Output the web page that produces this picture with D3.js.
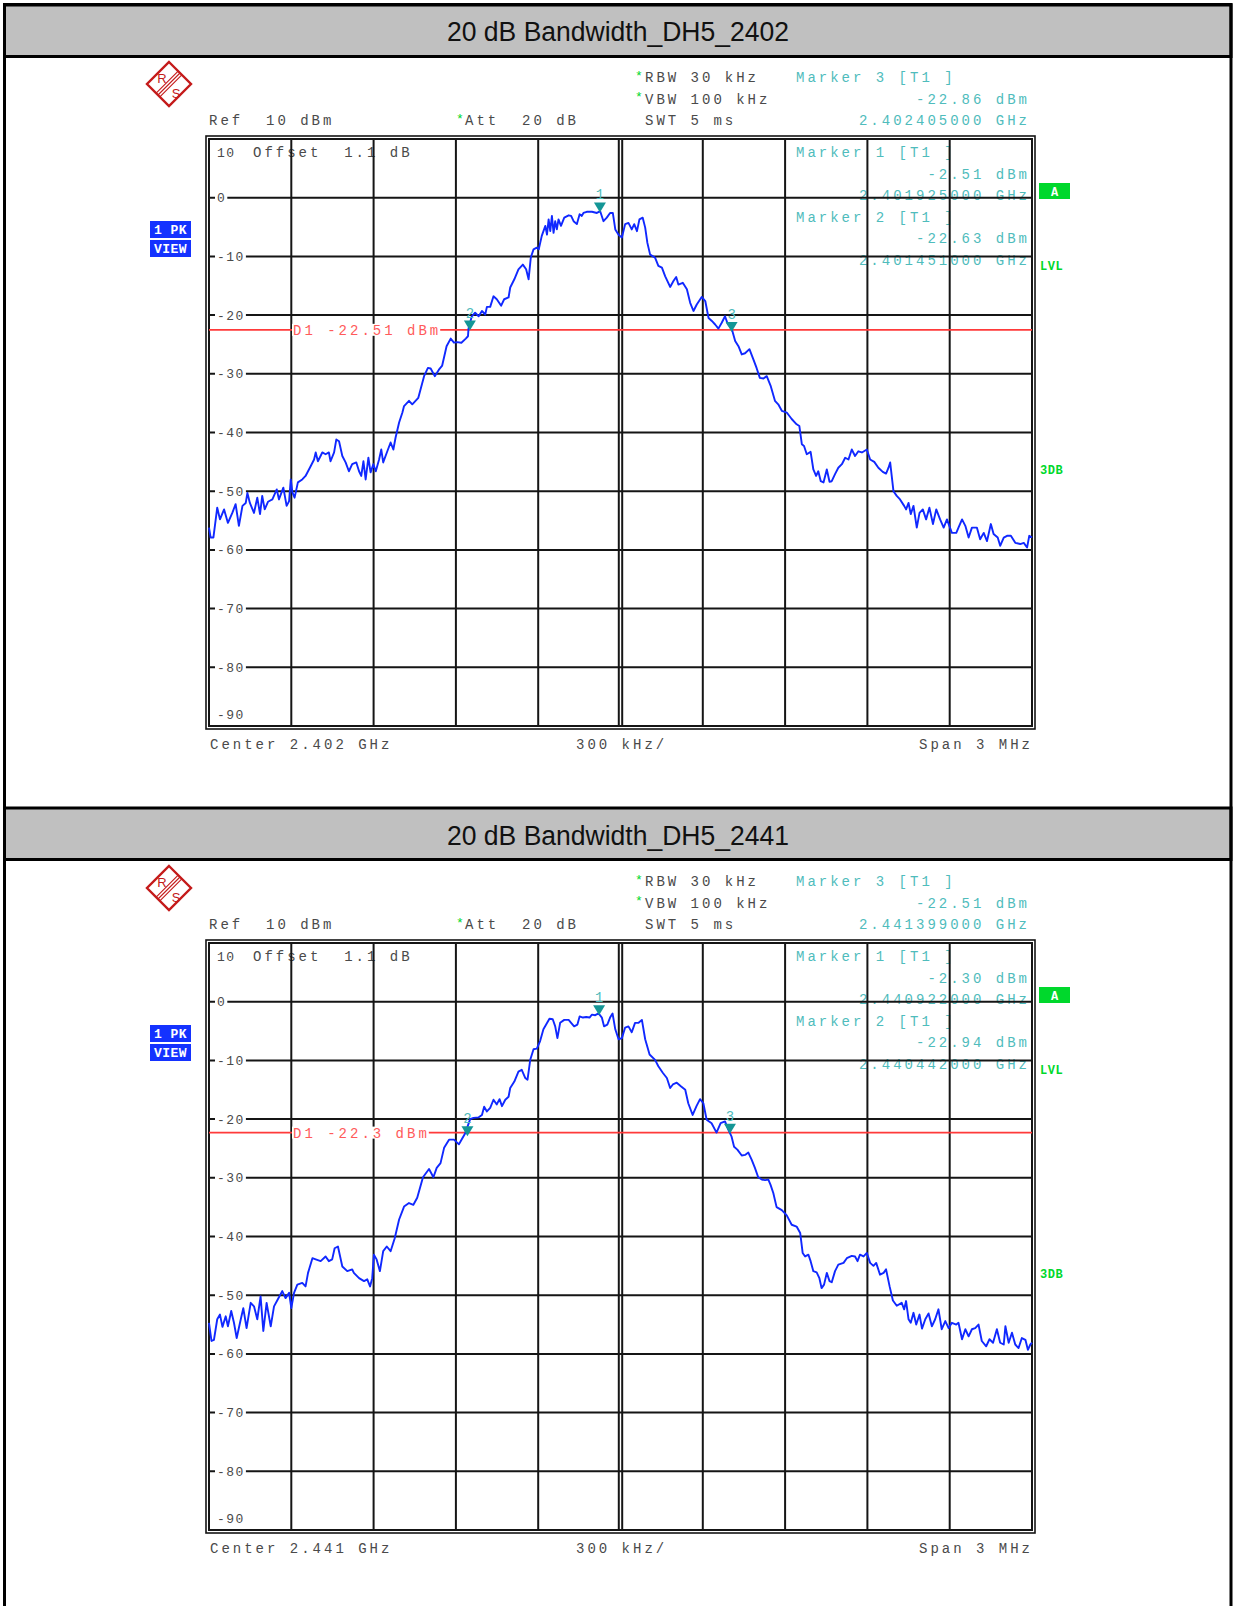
<!DOCTYPE html>
<html lang="en">
<head>
<meta charset="UTF-8">
<title>20 dB Bandwidth</title>
<script src="https://d3js.org/d3.v7.min.js"></script>
<style>
  body { margin: 0; background: #fff; }
  text { font-family: "Liberation Mono", "DejaVu Sans Mono", monospace; white-space: pre; }
</style>
</head>
<body>
<div id="chart"></div>
<script>
// ---- data ----
const titles = ["20 dB Bandwidth_DH5_2402", "20 dB Bandwidth_DH5_2441"];
const centerLabels = ["Center 2.402 GHz", "Center 2.441 GHz"];
const centersMHz = [2402, 2441];
const yTicks = [10, 0, -10, -20, -30, -40, -50, -60, -70, -80, -90];
const xTicksKHz = [-1500, -1200, -900, -600, -300, 0, 300, 600, 900, 1200, 1500];
const d1Levels = [-22.51, -22.3];

// marker id, frequency (MHz), level (dBm)
const markers2402 = [[1, 2401.925, -2.51], [2, 2401.451, -22.63], [3, 2402.405, -22.86]];
const markers2441 = [[1, 2440.922, -2.30], [2, 2440.442, -22.94], [3, 2441.399, -22.51]];

// trace: offset from center (kHz), level (dBm)
const trace2402 = [[-1500,-56.2],[-1494,-57.9],[-1484,-57.9],[-1470,-52.8],[-1460,-54.8],[-1445,-53.1],[-1431,-55.4],[-1415,-53.7],[-1403,-52.2],[-1391,-55.9],[-1378,-52.5],[-1366,-52.0],[-1360,-50.3],[-1351,-52.0],[-1336,-53.7],[-1324,-51.1],[-1314,-53.9],[-1306,-50.8],[-1297,-53.1],[-1285,-51.8],[-1269,-51.4],[-1253,-49.7],[-1245,-51.4],[-1229,-49.4],[-1217,-52.5],[-1208,-51.7],[-1202,-48.0],[-1196,-50.2],[-1188,-51.1],[-1176,-48.5],[-1160,-48.0],[-1148,-47.4],[-1129,-45.7],[-1117,-44.6],[-1111,-43.4],[-1103,-44.9],[-1087,-43.4],[-1075,-43.7],[-1063,-43.4],[-1057,-44.9],[-1044,-43.4],[-1036,-41.2],[-1026,-41.5],[-1014,-44.0],[-1002,-45.1],[-990,-46.6],[-978,-45.4],[-963,-45.1],[-953,-46.6],[-945,-47.4],[-937,-44.9],[-929,-48.0],[-919,-44.3],[-911,-46.8],[-901,-45.4],[-892,-46.6],[-880,-44.6],[-872,-42.9],[-865,-45.1],[-850,-43.2],[-838,-41.7],[-828,-42.9],[-820,-40.9],[-807,-38.3],[-795,-36.6],[-789,-35.5],[-771,-34.6],[-759,-35.2],[-737,-34.1],[-716,-30.4],[-702,-29.0],[-692,-29.1],[-677,-30.4],[-662,-29.3],[-650,-28.6],[-634,-25.3],[-619,-24.0],[-607,-24.7],[-595,-24.6],[-580,-24.7],[-564,-24.0],[-556,-23.6],
  [-554,-22.3],[-542,-20.2],[-530,-19.6],[-517,-20.2],[-505,-19.3],[-493,-19.9],[-487,-18.6],[-475,-18.6],[-463,-16.8],[-451,-17.3],[-435,-18.4],[-424,-17.3],[-408,-17.0],[-402,-15.3],[-387,-13.9],[-372,-12.2],[-356,-11.4],[-344,-12.2],[-335,-13.9],[-327,-10.2],[-317,-8.8],[-305,-8.5],[-298,-8.8],[-287,-6.5],[-274,-4.8],[-268,-6.3],[-262,-3.7],[-256,-5.7],[-250,-3.1],[-244,-6.0],[-238,-4.0],[-232,-5.4],[-226,-3.7],[-217,-4.8],[-205,-3.4],[-189,-3.0],[-180,-3.1],[-171,-4.0],[-159,-4.5],[-149,-2.8],[-141,-3.1],[-135,-2.6],[-123,-2.4],[-104,-2.4],[-86,-2.6],[-74,-2.3],[-62,-4.0],[-50,-3.4],[-38,-2.6],[-28,-2.6],[-19,-5.4],[-7,-6.3],[5,-6.8],[17,-4.5],[29,-4.3],[41,-5.4],[50,-4.5],[60,-5.7],[69,-3.7],[81,-3.4],[90,-5.1],[98,-7.7],[108,-9.7],[126,-10.2],[138,-11.6],[151,-11.9],[163,-13.4],[181,-15.2],[193,-14.2],[203,-13.5],[211,-14.8],[227,-14.5],[242,-15.6],[254,-17.9],[266,-19.3],[278,-18.2],[296,-16.9],[309,-17.6],[321,-20.5],[333,-21.0],[345,-21.6],[357,-22.3],[369,-21.3],[381,-20.2],[390,-21.4],[406,-22.4],[418,-24.4],[430,-25.3],
  [442,-26.7],[454,-26.5],[470,-25.8],[484,-27.5],[496,-29.0],[508,-30.7],[521,-30.8],[533,-30.4],[547,-32.0],[563,-34.6],[575,-35.2],[588,-36.3],[606,-36.6],[624,-37.7],[642,-38.6],[652,-38.9],[661,-42.0],[669,-42.3],[679,-43.7],[693,-43.3],[703,-46.3],[713,-47.4],[721,-46.6],[730,-48.3],[740,-48.5],[752,-46.3],[762,-48.4],[770,-48.3],[782,-47.1],[794,-46.0],[807,-45.4],[819,-44.3],[831,-44.6],[843,-42.9],[855,-44.0],[867,-43.2],[880,-43.4],[898,-42.9],[910,-44.6],[925,-45.0],[940,-46.0],[956,-46.7],[968,-47.0],[977,-46.0],[983,-45.1],[995,-50.0],[1007,-50.8],[1019,-51.4],[1034,-52.5],[1041,-53.1],[1050,-52.0],[1058,-53.9],[1068,-52.5],[1080,-56.2],[1090,-53.7],[1102,-53.1],[1114,-54.8],[1126,-52.8],[1139,-55.6],[1151,-53.1],[1165,-54.8],[1178,-56.2],[1190,-54.8],[1208,-57.1],[1224,-57.1],[1232,-56.2],[1245,-54.8],[1257,-55.9],[1269,-57.9],[1281,-56.2],[1299,-56.2],[1311,-58.2],[1324,-57.1],[1336,-58.5],[1350,-55.6],[1360,-57.3],[1375,-57.9],[1384,-59.3],[1397,-57.9],[1409,-57.6],[1423,-57.6],[1439,-58.8],[1457,-59.0],[1470,-58.8],[1482,-59.6],[1490,-57.6],[1500,-57.9]];

const trace2441 = [[-1500,-54.7],[-1491,-57.8],[-1482,-57.6],[-1470,-54.1],[-1460,-53.3],[-1451,-55.4],[-1439,-53.6],[-1431,-55.3],[-1419,-52.7],[-1409,-54.7],[-1399,-57.3],[-1387,-54.7],[-1375,-52.2],[-1363,-55.6],[-1348,-51.3],[-1336,-51.9],[-1324,-54.1],[-1312,-50.2],[-1302,-56.1],[-1290,-51.3],[-1275,-55.3],[-1263,-51.9],[-1249,-50.7],[-1233,-49.3],[-1221,-50.5],[-1208,-49.6],[-1200,-52.2],[-1190,-49.6],[-1178,-48.2],[-1160,-47.9],[-1148,-48.5],[-1139,-46.2],[-1123,-43.7],[-1111,-43.9],[-1093,-44.2],[-1075,-43.4],[-1063,-44.2],[-1051,-43.9],[-1042,-42.0],[-1030,-41.7],[-1014,-45.1],[-996,-45.9],[-978,-45.6],[-972,-46.2],[-953,-47.1],[-935,-47.6],[-923,-47.3],[-913,-48.5],[-905,-47.1],[-899,-43.1],[-889,-43.9],[-877,-45.9],[-865,-42.5],[-852,-41.7],[-838,-42.5],[-823,-40.3],[-807,-37.1],[-789,-34.9],[-771,-34.3],[-755,-34.6],[-741,-33.4],[-720,-29.9],[-698,-28.5],[-682,-29.9],[-670,-28.3],[-656,-27.5],[-643,-24.9],[-625,-23.5],[-607,-23.5],[-589,-24.3],
  [-566,-22.4],[-548,-20.0],[-536,-19.8],[-517,-19.7],[-505,-19.3],[-497,-17.9],[-487,-18.7],[-475,-18.1],[-463,-16.7],[-451,-17.5],[-441,-16.6],[-432,-17.8],[-420,-16.7],[-408,-16.2],[-402,-14.7],[-387,-13.6],[-372,-11.9],[-360,-11.6],[-347,-13.0],[-339,-13.3],[-329,-9.9],[-317,-8.1],[-305,-8.0],[-293,-6.7],[-281,-4.7],[-271,-3.9],[-259,-2.9],[-247,-3.0],[-238,-4.2],[-230,-6.2],[-220,-3.6],[-205,-3.1],[-189,-3.1],[-180,-3.6],[-169,-4.2],[-157,-3.9],[-149,-2.5],[-137,-2.7],[-125,-2.6],[-113,-2.7],[-104,-2.2],[-92,-2.3],[-80,-2.0],[-68,-2.7],[-60,-4.2],[-48,-3.9],[-38,-2.7],[-29,-2.0],[-19,-4.7],[-7,-6.4],[5,-6.2],[17,-4.4],[29,-4.2],[41,-5.2],[53,-3.6],[66,-3.6],[78,-3.1],[90,-6.4],[106,-9.0],[126,-9.9],[138,-11.0],[154,-12.1],[169,-13.0],[181,-14.7],[191,-14.1],[205,-13.8],[220,-14.4],[236,-15.0],
  [247,-17.3],[263,-19.3],[277,-17.8],[290,-16.6],[302,-17.3],[314,-20.1],[332,-20.7],[350,-22.3],[365,-20.7],[381,-20.4],[393,-21.8],[405,-23.0],[414,-24.7],[426,-25.2],[442,-26.2],[454,-26.1],[466,-25.7],[478,-26.9],[490,-28.3],[502,-29.9],[515,-30.3],[527,-30.4],[539,-30.3],[547,-31.2],[557,-32.6],[569,-35.0],[588,-35.5],[606,-36.4],[624,-38.0],[642,-38.3],[655,-39.4],[664,-42.8],[673,-43.4],[685,-43.1],[693,-44.2],[703,-45.9],[715,-46.1],[725,-47.1],[733,-48.8],[742,-48.2],[752,-46.2],[762,-47.6],[770,-47.8],[782,-45.9],[794,-44.8],[813,-44.5],[825,-43.7],[843,-43.3],[855,-43.4],[864,-44.2],[873,-43.1],[886,-43.4],[898,-42.8],[910,-44.5],[922,-45.0],[932,-44.5],[946,-46.5],[959,-46.2],[968,-45.6],[981,-48.5],[993,-50.9],[1007,-51.8],[1025,-51.3],[1034,-52.4],[1041,-51.0],[1050,-54.1],[1058,-54.7],[1068,-53.0],[1078,-55.0],[1090,-53.3],[1099,-55.7],[1111,-54.1],[1123,-53.1],[1135,-55.3],[1147,-54.1],[1159,-52.4],[1171,-55.8],[1184,-54.4],[1196,-55.6],[1208,-54.7],[1224,-55.0],[1232,-54.7],[1245,-57.5],[1257,-55.8],[1269,-57.0],[1281,-55.8],[1293,-55.6],[1305,-55.0],[1317,-57.8],[1333,-58.7],[1345,-57.5],[1358,-58.1],[1372,-55.8],[1384,-58.1],[1397,-58.4],[1403,-55.3],[1415,-58.1],[1427,-56.4],[1439,-58.4],[1451,-59.0],[1463,-57.3],[1476,-57.6],[1485,-59.3],[1494,-58.4],[1500,-58.1]];

const traces = [trace2402, trace2441];
const markerSets = [markers2402, markers2441];

// ---- layout ----
const W = 1234, H = 1606;
const panelStep = 804;
const gridL = 209, gridR = 1032, gridT = 139, gridB = 726;
const GRAY = "#4a4a4a", TEAL = "#4fbcbc", TRI = "#149696", RED = "#ff3a3a",
      BLUE = "#1028ff", GREEN = "#00d82c";

const x = d3.scaleLinear().domain([-1500, 1500]).range([gridL, gridR]);
const y = d3.scaleLinear().domain([-90, 10]).range([gridB, gridT]);

const svg = d3.select("#chart").append("svg")
    .attr("width", W).attr("height", H);

svg.append("rect").attr("width", W).attr("height", H).attr("fill", "#fff");

function txt(g, px, py, s, o = {}) {
    return g.append("text")
        .attr("x", px).attr("y", py)
        .attr("fill", o.fill || GRAY)
        .attr("font-size", o.size || 14)
        .attr("letter-spacing", o.ls === undefined ? 3 : o.ls)
        .attr("text-anchor", o.anchor || "start")
        .attr("font-weight", o.weight || "normal")
        .text(s);
}

function drawPanel(i) {
    const g = svg.append("g").attr("transform", `translate(0,${i * panelStep})`);
    const markers = markerSets[i];
    const center = centersMHz[i];
    const byId = id => markers.find(m => m[0] === id);
    const fmtLvl = v => v.toFixed(2) + " dBm";
    const fmtFreq = f => (f / 1000).toFixed(9) + " GHz";

    // title band
    g.append("rect").attr("x", 4.5).attr("y", i === 0 ? 5 : 4)
        .attr("width", 1226.5).attr("height", 51.5)
        .attr("fill", "#c0c0c0").attr("stroke", "#000").attr("stroke-width", 3);
    g.append("text").attr("x", 618).attr("y", 41)
        .attr("text-anchor", "middle")
        .attr("font-size", 27).attr("fill", "#111")
        .attr("textLength", 342).attr("lengthAdjust", "spacingAndGlyphs")
        .style("font-family", "'Liberation Sans', Arial, sans-serif")
        .text(titles[i]);

    // R&S logo
    const logo = g.append("g").attr("transform", "translate(169,84)");
    logo.append("path").attr("d", "M0,-22 L22,0 L0,22 L-22,0 Z")
        .attr("fill", "none").attr("stroke", "#c41a1a").attr("stroke-width", 2.4);
    [-2.6, 0, 2.6].forEach(o => {
        logo.append("line")
            .attr("x1", 11 + o * 0.707).attr("y1", -11 + o * 0.707)
            .attr("x2", -11 + o * 0.707).attr("y2", 11 + o * 0.707)
            .attr("stroke", "#c41a1a").attr("stroke-width", 1.1);
    });
    logo.append("text").attr("x", -7).attr("y", -1).attr("text-anchor", "middle")
        .attr("font-size", 13).attr("fill", "#c41a1a")
        .style("font-family", "'Liberation Sans', Arial, sans-serif").text("R");
    logo.append("text").attr("x", 7).attr("y", 14).attr("text-anchor", "middle")
        .attr("font-size", 13).attr("fill", "#c41a1a")
        .style("font-family", "'Liberation Sans', Arial, sans-serif").text("S");

    // header texts
    const m3 = byId(3);
    txt(g, 635, 80, "*", {fill: GREEN, size: 13, ls: 0});
    txt(g, 645, 82, "RBW 30 kHz");
    txt(g, 635, 101, "*", {fill: GREEN, size: 13, ls: 0});
    txt(g, 645, 103.5, "VBW 100 kHz");
    txt(g, 645, 125, "SWT 5 ms");
    txt(g, 209, 125, "Ref  10 dBm");
    txt(g, 456, 122.5, "*", {fill: GREEN, size: 13, ls: 0});
    txt(g, 465, 125, "Att  20 dB");
    txt(g, 796, 82, `Marker ${m3[0]} [T1 ]`, {fill: TEAL});
    txt(g, 1030, 103.5, fmtLvl(m3[2]), {fill: TEAL, anchor: "end"});
    txt(g, 1030, 125, fmtFreq(m3[1]), {fill: TEAL, anchor: "end"});

    // PK / VIEW boxes
    g.append("rect").attr("x", 150).attr("y", 221).attr("width", 41).attr("height", 17).attr("fill", "#1432ff");
    g.append("rect").attr("x", 150).attr("y", 240).attr("width", 41).attr("height", 17).attr("fill", "#1432ff");
    txt(g, 170.5, 234, "1 PK", {fill: "#fff", size: 13, ls: 0.5, anchor: "middle", weight: "bold"});
    txt(g, 170.5, 253, "VIEW", {fill: "#fff", size: 13, ls: 0.5, anchor: "middle", weight: "bold"});

    // right side indicators
    g.append("rect").attr("x", 1039).attr("y", 183).attr("width", 31).attr("height", 16).attr("fill", GREEN);
    txt(g, 1054.5, 195.5, "A", {fill: "#fff", size: 12, ls: 0, anchor: "middle", weight: "bold"});
    txt(g, 1040, 270, "LVL", {fill: GREEN, size: 12, ls: 0.5, weight: "bold"});
    txt(g, 1040, 473.5, "3DB", {fill: GREEN, size: 12, ls: 0.5, weight: "bold"});

    // texts underneath the grid
    txt(g, 217, 157, "10", {size: 13, ls: 1.5});
    txt(g, 253, 157, "Offset  1.1 dB");
    const m1 = byId(1), m2 = byId(2);
    txt(g, 796, 157, `Marker ${m1[0]} [T1 ]`, {fill: TEAL});
    txt(g, 1030, 178.5, fmtLvl(m1[2]), {fill: TEAL, anchor: "end"});
    txt(g, 1030, 200, fmtFreq(m1[1]), {fill: TEAL, anchor: "end"});
    txt(g, 796, 221.5, `Marker ${m2[0]} [T1 ]`, {fill: TEAL});
    txt(g, 1030, 243, fmtLvl(m2[2]), {fill: TEAL, anchor: "end"});
    txt(g, 1030, 264.5, fmtFreq(m2[1]), {fill: TEAL, anchor: "end"});

    // grid
    const grid = g.append("g").attr("stroke", "#151515").attr("stroke-width", 2);
    grid.selectAll(".v").data(xTicksKHz.slice(1, -1)).join("line")
        .attr("x1", d => x(d) + (d === 0 ? -1.7 : 0)).attr("x2", d => x(d) + (d === 0 ? -1.7 : 0))
        .attr("y1", gridT).attr("y2", gridB);
    grid.append("line").attr("x1", x(0) + 1.7).attr("x2", x(0) + 1.7)
        .attr("y1", gridT).attr("y2", gridB);
    grid.selectAll(".h").data(yTicks.slice(1, -1)).join("line")
        .attr("x1", gridL).attr("x2", gridR)
        .attr("y1", d => y(d)).attr("y2", d => y(d));

    // frame (double line)
    g.append("rect").attr("x", gridL).attr("y", gridT)
        .attr("width", gridR - gridL).attr("height", gridB - gridT)
        .attr("fill", "none").attr("stroke", "#151515").attr("stroke-width", 2);
    g.append("rect").attr("x", gridL - 3).attr("y", gridT - 3)
        .attr("width", gridR - gridL + 6).attr("height", gridB - gridT + 6)
        .attr("fill", "none").attr("stroke", "#151515").attr("stroke-width", 1.6);

    // y tick labels on the grid lines
    yTicks.slice(1, -1).forEach(t => {
        const s = String(t);
        const wpx = s.length * 9.3 + 3;
        g.append("rect").attr("x", 215).attr("y", y(t) - 7)
            .attr("width", wpx).attr("height", 14).attr("fill", "#fff");
        txt(g, 217, y(t) + 4.5, s, {size: 13, ls: 1.5});
    });
    txt(g, 217, y(-90) - 7, "-90", {size: 13, ls: 1.5});

    // bottom texts
    txt(g, 210, 748.5, centerLabels[i]);
    txt(g, 576, 748.5, "300 kHz/");
    txt(g, 1033, 748.5, "Span 3 MHz", {anchor: "end"});

    // display line D1
    const d1 = d1Levels[i];
    g.append("line").attr("x1", gridL).attr("x2", gridR)
        .attr("y1", y(d1)).attr("y2", y(d1))
        .attr("stroke", RED).attr("stroke-width", 1.6);
    const d1Text = `D1 ${d1} dBm`;
    g.append("rect").attr("x", 292).attr("y", y(d1) - 6)
        .attr("width", d1Text.length * 11.4).attr("height", 12).attr("fill", "#fff");
    txt(g, 293, y(d1) + 5, d1Text, {fill: "#ff5a5a"});

    // trace
    const line = d3.line().x(d => x(d[0])).y(d => y(d[1]));
    g.append("path").datum(traces[i])
        .attr("d", line)
        .attr("fill", "none").attr("stroke", BLUE).attr("stroke-width", 1.9)
        .attr("stroke-linejoin", "round");

    // markers
    markers.forEach(m => {
        const mx = x((m[1] - center) * 1000), my = y(m[2]);
        g.append("path")
            .attr("d", `M${mx - 6},${my - 10} L${mx + 6},${my - 10} L${mx},${my} Z`)
            .attr("fill", TRI);
        txt(g, mx, my - 13, String(m[0]), {fill: TEAL, size: 14, ls: 0, anchor: "middle"});
    });
}

drawPanel(0);
drawPanel(1);

// outer page border
svg.append("rect").attr("x", 4.5).attr("y", 4.5)
    .attr("width", 1226.5).attr("height", H + 10)
    .attr("fill", "none").attr("stroke", "#000").attr("stroke-width", 3);
</script>
</body>
</html>
